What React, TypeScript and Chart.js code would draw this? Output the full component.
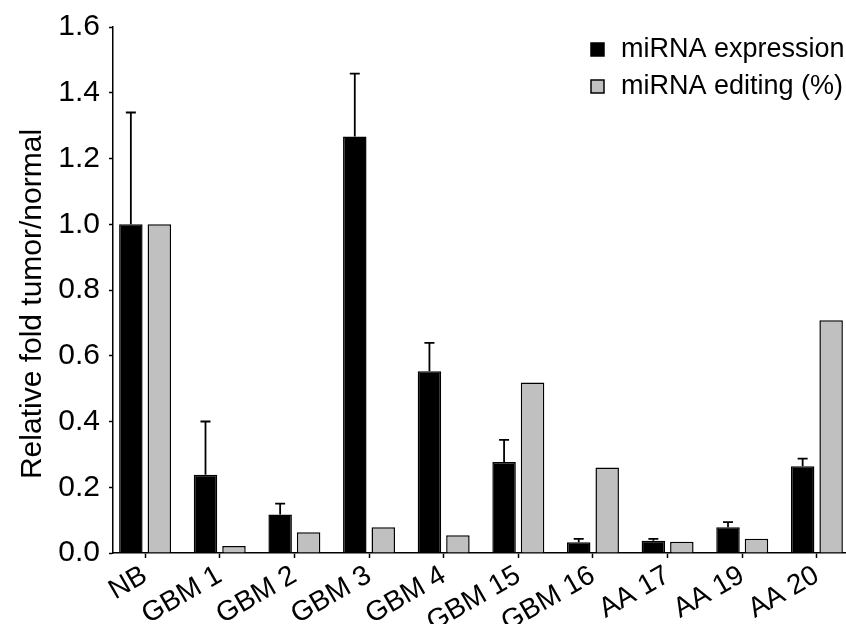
import { useEffect, useRef } from 'react';
import { Chart, registerables } from 'chart.js';

Chart.register(...registerables);

// Samples on the x axis
const categories = ['NB', 'GBM 1', 'GBM 2', 'GBM 3', 'GBM 4', 'GBM 15', 'GBM 16', 'AA 17', 'AA 19', 'AA 20'];
const seriesNames = ['miRNA expression', 'miRNA editing (%)'];

// Relative fold (tumor / normal) per sample
const expression = [1.0, 0.238, 0.117, 1.267, 0.553, 0.277, 0.033, 0.037, 0.078, 0.264];
const expressionError = [0.34, 0.162, 0.033, 0.191, 0.086, 0.067, 0.01, 0.006, 0.016, 0.023];
const editing = [1.0, 0.021, 0.063, 0.078, 0.054, 0.519, 0.26, 0.034, 0.043, 0.708];

const yTickLabels = ['0.0', '0.2', '0.4', '0.6', '0.8', '1.0', '1.2', '1.4', '1.6'];
const yAxisTitle = 'Relative fold tumor/normal';

const FONT = "'Liberation Sans', Arial, Helvetica, sans-serif";
const BLACK = '#000000';
const GREY = '#c0c0c0';

// Upward-only error whiskers on the expression bars
const errorBarPlugin = {
  id: 'errorBars',
  afterDatasetsDraw(chart: any) {
    const meta = chart.getDatasetMeta(0);
    const yScale = chart.scales.y;
    const ctx = chart.ctx;
    ctx.save();
    ctx.strokeStyle = BLACK;
    ctx.lineWidth = 1.8;
    meta.data.forEach((bar: any, i: number) => {
      const top = yScale.getPixelForValue(expression[i] + expressionError[i]);
      ctx.beginPath();
      ctx.moveTo(bar.x, bar.y);
      ctx.lineTo(bar.x, top);
      ctx.moveTo(bar.x - 5, top);
      ctx.lineTo(bar.x + 5, top);
      ctx.stroke();
    });
    ctx.restore();
  },
};

// Vertical axis title and the boxed legend in the upper right
const annotationsPlugin = {
  id: 'annotations',
  afterDraw(chart: any) {
    const ctx = chart.ctx;
    ctx.save();
    ctx.fillStyle = BLACK;
    ctx.font = `30px ${FONT}`;
    ctx.textAlign = 'center';
    ctx.textBaseline = 'middle';
    ctx.translate(33, 304);
    ctx.rotate(-Math.PI / 2);
    ctx.fillText(yAxisTitle, 0, 0);
    ctx.restore();

    ctx.save();
    chart.data.datasets.forEach((ds: any, i: number) => {
      const by = 43 + i * 37;
      ctx.fillStyle = ds.backgroundColor;
      ctx.fillRect(591, by, 13, 13);
      ctx.strokeStyle = BLACK;
      ctx.lineWidth = 1.5;
      ctx.strokeRect(591, by, 13, 13);
      ctx.fillStyle = BLACK;
      ctx.font = `27px ${FONT}`;
      ctx.textAlign = 'left';
      ctx.textBaseline = 'middle';
      ctx.fillText(ds.label, 621, by + 7);
    });
    ctx.restore();
  },
};

export default function App() {
  const canvasRef = useRef<HTMLCanvasElement>(null);

  useEffect(() => {
    if (!canvasRef.current) return;
    Chart.defaults.font.family = FONT;
    const chart = new Chart(canvasRef.current, {
      type: 'bar',
      data: {
        datasets: [
          {
            label: seriesNames[0],
            data: expression.map((v, i) => ({ x: i, y: v })),
            backgroundColor: BLACK,
            borderColor: BLACK,
            borderWidth: 1.5,
          },
          {
            label: seriesNames[1],
            data: editing.map((v, i) => ({ x: i, y: v })),
            backgroundColor: GREY,
            borderColor: BLACK,
            borderWidth: 1.5,
          },
        ],
      },
      options: {
        responsive: false,
        animation: false,
        devicePixelRatio: 1,
        categoryPercentage: 0.763,
        barPercentage: 0.825,
        layout: { padding: { top: 24, left: 0, right: 0, bottom: 0 } },
        plugins: {
          legend: { display: false },
          tooltip: { enabled: false },
        },
        scales: {
          x: {
            type: 'linear',
            offset: false,
            min: -0.43,
            max: 9.39,
            afterFit: (scale: any) => {
              scale.height = 71;
            },
            border: { display: true, color: BLACK, width: 1.5 },
            grid: {
              offset: false,
              drawOnChartArea: false,
              drawTicks: true,
              tickLength: 5,
              tickColor: BLACK,
              tickWidth: 1.5,
            },
            ticks: {
              stepSize: 1,
              includeBounds: false,
              autoSkip: false,
              maxRotation: 30,
              minRotation: 30,
              padding: 1,
              color: BLACK,
              font: { size: 28, family: FONT },
              callback: (v: any) => categories[v] ?? '',
            },
          },
          y: {
            min: 0,
            max: 1.6,
            afterFit: (scale: any) => {
              scale.width = 113;
            },
            border: { display: true, color: BLACK, width: 1.5 },
            grid: {
              drawOnChartArea: false,
              drawTicks: true,
              tickLength: 4,
              tickColor: BLACK,
              tickWidth: 1.5,
            },
            ticks: {
              stepSize: 0.2,
              padding: 9,
              color: BLACK,
              font: { size: 30, family: FONT },
              callback: (_v: any, idx: number) => yTickLabels[idx] ?? '',
            },
          },
        },
      },
      plugins: [errorBarPlugin, annotationsPlugin],
    } as any);
    return () => chart.destroy();
  }, []);

  return (
    <div style={{ position: 'absolute', left: 0, top: 0, width: 846, height: 624, overflow: 'hidden', background: '#ffffff' }}>
      <canvas ref={canvasRef} width={846} height={624} style={{ display: 'block' }} />
    </div>
  );
}
